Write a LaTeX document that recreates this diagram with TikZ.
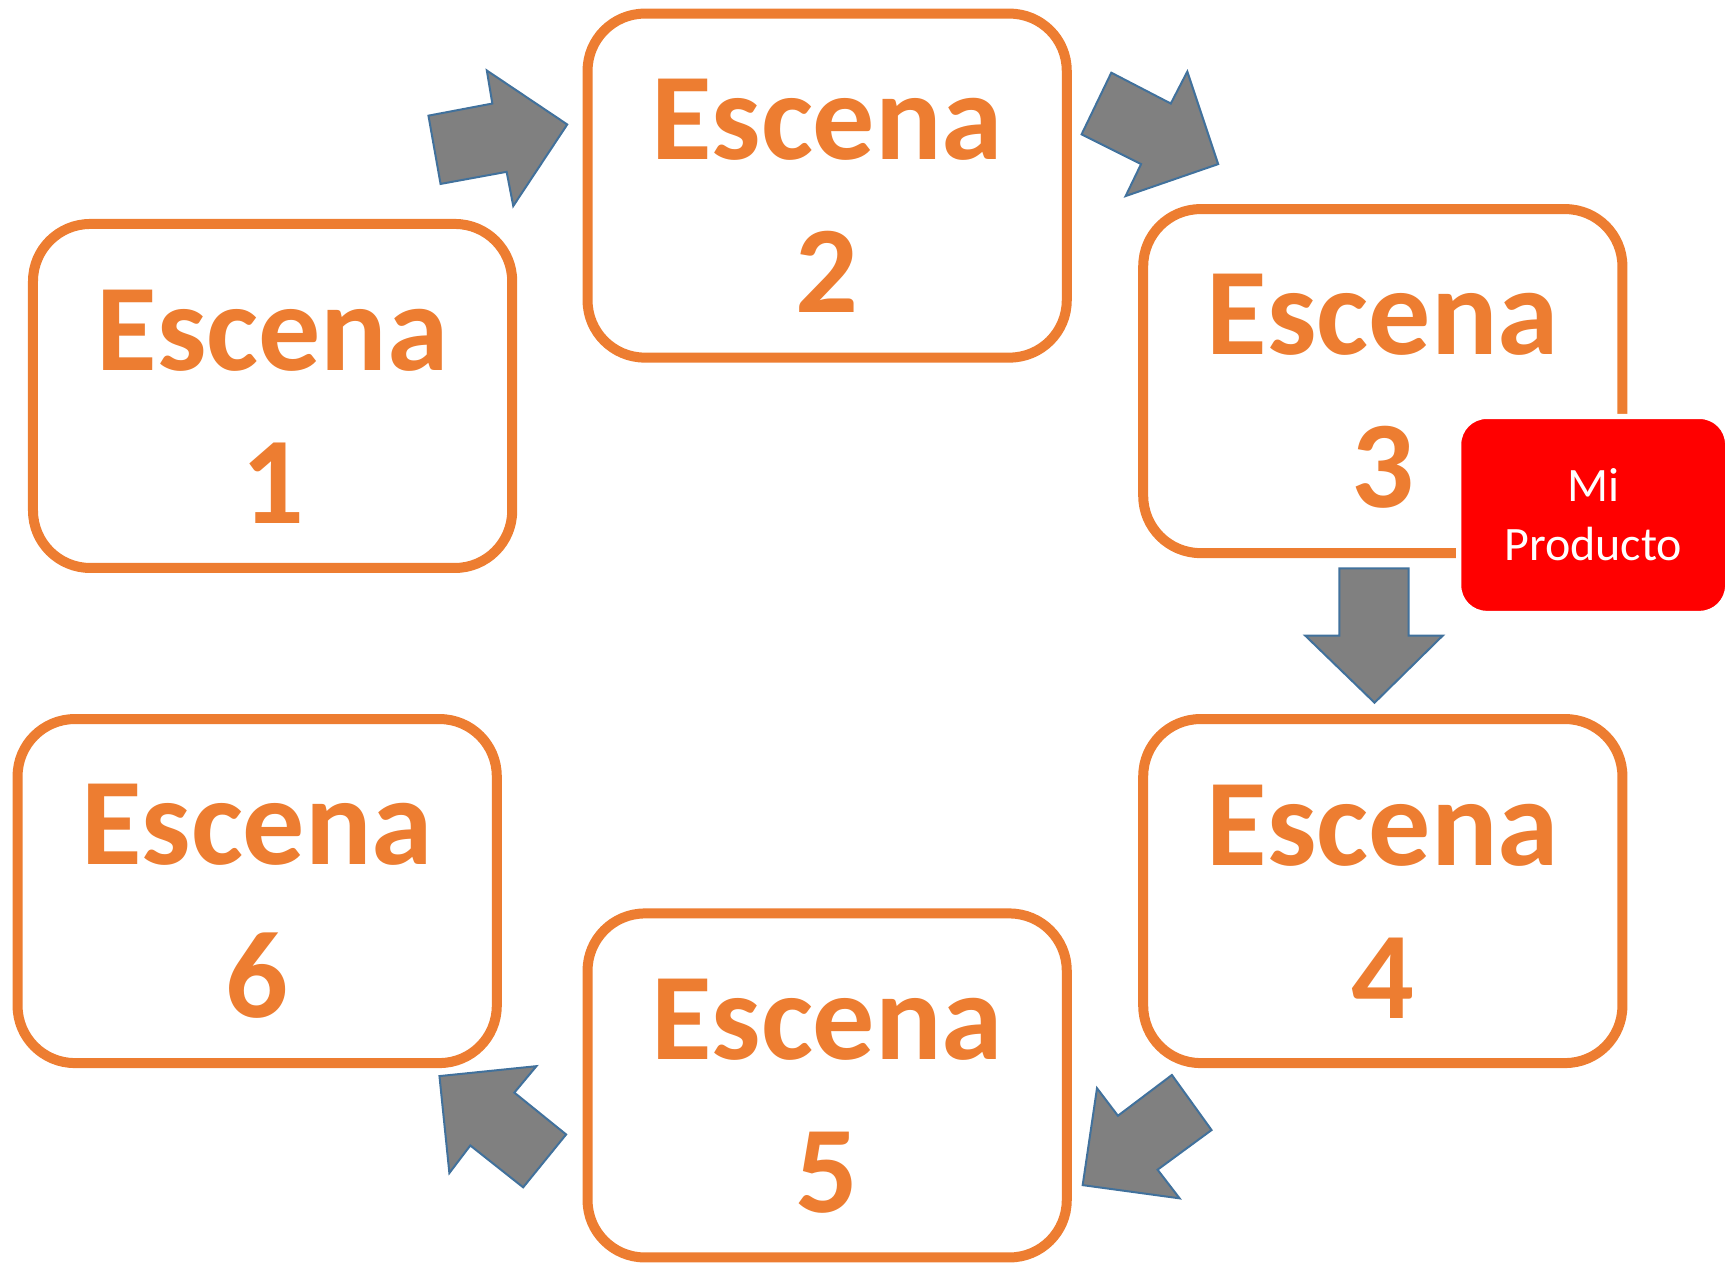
\documentclass[tikz,border=0pt]{standalone}
\usepackage{fontspec}
\setmainfont{Carlito}
\definecolor{orng}{HTML}{ED7D31}
\definecolor{arrfill}{HTML}{808080}
\definecolor{arrline}{HTML}{41719C}
\tikzset{
  scene/.style={draw=orng, line width=5pt, rounded corners=28.6pt, fill=white,
    minimum width=239.6pt, minimum height=172pt, inner sep=0pt},
  scenetext/.style={font=\bfseries\fontsize{62}{76.5}\selectfont, text=orng, align=center, inner sep=0pt},
  prodbox/.style={fill=red, draw=white, line width=2.6pt, rounded corners=14pt,
    minimum width=134.5pt, minimum height=98.5pt, inner sep=0pt,
    font=\fontsize{24}{29.3}\selectfont, text=white, align=center},
  blockarrow/.style={fill=arrfill, draw=arrline, line width=1pt, line join=miter}
}
\begin{document}
\begin{tikzpicture}[x=0.5507pt,y=-0.5507pt]
\useasboundingbox (0,0) rectangle (1568,1149);
% scene boxes
\node[scene] (s1) at (247.5,359.5) {};
\node[scene] (s2) at (751,168.5) {};
\node[scene] (s3) at (1255.5,346) {};
\node[scene] (s4) at (1255.5,809) {};
\node[scene] (s5) at (751,985.5) {};
\node[scene] (s6) at (233.5,809) {};
\node[scenetext] (t1) at ([yshift=-5.2pt]s1.center) {Escena\\1};
\node[scenetext] (t2) at ([yshift=-5.2pt]s2.center) {Escena\\2};
\node[scenetext] (t3) at ([yshift=-5.2pt]s3.center) {Escena\\3};
\node[scenetext] (t4) at ([yshift=-5.2pt]s4.center) {Escena\\4};
\node[scenetext] (t5) at ([yshift=-5.2pt]s5.center) {Escena\\5};
\node[scenetext] (t6) at ([yshift=-5.2pt]s6.center) {Escena\\6};
% product box
\node[prodbox] (prod) at (1446.5,467.5) {Mi\\Producto};
% block arrows
\draw[blockarrow] (389,105) -- (447,94) -- (442,64) -- (515,113) -- (466,187) -- (460,156) -- (400,167) -- cycle;
\draw[blockarrow] (982,122) -- (1009,66) -- (1063,94) -- (1078,65) -- (1106,149) -- (1022,178) -- (1036,149) -- cycle;
\draw[blockarrow] (1216,516) -- (1279,516) -- (1279,577) -- (1310,577) -- (1248,638) -- (1185,577) -- (1216,577) -- cycle;
\draw[blockarrow] (1064,976) -- (1100,1026) -- (1051,1062) -- (1071,1088) -- (983,1076) -- (996,988) -- (1015,1013) -- cycle;
\draw[blockarrow] (514,1030) -- (475,1078) -- (427,1040) -- (408,1065) -- (399,977) -- (487,968) -- (467,992) -- cycle;
\end{tikzpicture}
\end{document}
